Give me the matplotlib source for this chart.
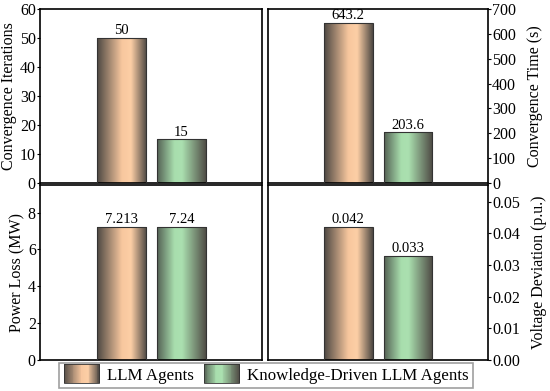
import numpy as np
import matplotlib
matplotlib.use('Agg')
import matplotlib.pyplot as plt
from matplotlib.colors import LinearSegmentedColormap
from matplotlib.patches import Rectangle, Patch
from matplotlib.legend_handler import HandlerBase

plt.rcParams['font.family'] = ['Liberation Serif', 'DejaVu Serif']

# dane
methods = ['LLM Agents', 'Knowledge-Driven LLM Agents']
iterations = [50, 15]
conv_time = [643.2, 203.6]
power_loss = [7.213, 7.24]
voltage_dev = [0.042, 0.033]
labels_iter = ['50', '15']
labels_time = ['643.2', '203.6']
labels_loss = ['7.213', '7.24']
labels_volt = ['0.042', '0.033']

dark = (0.30, 0.28, 0.26)
cm_orange = LinearSegmentedColormap.from_list(
    'or', [(0, dark), (0.5, (0.97, 0.78, 0.62)), (0.68, (0.99, 0.81, 0.65)), (1, dark)])
cm_green = LinearSegmentedColormap.from_list(
    'gr', [(0, (0.33, 0.38, 0.33)), (0.35, (0.66, 0.87, 0.68)), (0.5, (0.67, 0.88, 0.69)), (1, dark)])
cmaps = [cm_orange, cm_green]


def grad_bars(ax, vals, texts, ylim, yticks, ylabel, right=False, fmt=None):
    x = np.arange(len(vals))
    bars = ax.bar(x, vals, width=0.81, color='none', edgecolor='#333333', linewidth=0.8, zorder=3)
    grad = np.linspace(0, 1, 256).reshape(1, -1)
    for b, cm in zip(bars, cmaps):
        im = ax.imshow(grad, extent=[b.get_x(), b.get_x() + b.get_width(), 0, b.get_height()],
                       aspect='auto', cmap=cm, zorder=2, interpolation='bicubic')
        im.set_clip_path(b)
    for b, t in zip(bars, texts):
        ax.text(b.get_x() + b.get_width() / 2, b.get_height() + ylim * 0.004, t,
                ha='center', va='bottom', fontsize=10.5)
    ax.set_xlim(-1.34, 2.33)
    ax.set_ylim(0, ylim)
    ax.set_yticks(yticks)
    if fmt:
        ax.set_yticklabels([fmt % v for v in yticks])
    ax.set_xticks([])
    ax.set_ylabel(ylabel, fontsize=11.5, labelpad=2)
    ax.tick_params(axis='y', direction='out', length=2, pad=1, labelsize=11.5)
    if right:
        ax.yaxis.tick_right()
        ax.yaxis.set_label_position('right')
        ax.set_ylabel(ylabel, fontsize=11.5, labelpad=8)
    for s in ax.spines.values():
        s.set_linewidth(1.2)


class GradHandler(HandlerBase):
    def __init__(self, cm):
        super().__init__()
        self.cm = cm

    def create_artists(self, legend, orig_handle, xdescent, ydescent, width, height, fontsize, trans):
        n = 40
        arts = []
        for i in range(n):
            r = Rectangle((-xdescent + width * i / n, -ydescent - 2), width / n + 0.3, height + 4,
                          facecolor=self.cm((i + 0.5) / n), edgecolor='none', transform=trans)
            arts.append(r)
        arts.append(Rectangle((-xdescent, -ydescent - 2), width, height + 4, facecolor='none',
                              edgecolor='#333333', linewidth=0.6, transform=trans))
        return arts


fig = plt.figure(figsize=(5.5, 3.91), dpi=100)
ax1 = fig.add_axes([0.0727, 0.532, 0.4037, 0.445])
ax2 = fig.add_axes([0.4873, 0.532, 0.3997, 0.445])
ax3 = fig.add_axes([0.0727, 0.079, 0.4037, 0.448])
ax4 = fig.add_axes([0.4873, 0.079, 0.3997, 0.448])

grad_bars(ax1, iterations, labels_iter, 60, np.arange(0, 61, 10), 'Convergence Iterations')
grad_bars(ax2, conv_time, labels_time, 700, np.arange(0, 701, 100), 'Convergence Time (s)', right=True)
grad_bars(ax3, power_loss, labels_loss, 9.5, np.arange(0, 9, 2), 'Power Loss (MW)')
grad_bars(ax4, voltage_dev, labels_volt, 0.0553, np.arange(0, 0.051, 0.01), 'Voltage Deviation (p.u.)',
          right=True, fmt='%.2f')

h = [Patch(), Patch()]
leg = fig.legend(h, methods, loc='center', bbox_to_anchor=(0.484, 0.04), ncol=2, fontsize=12.2,
                 handler_map={h[0]: GradHandler(cm_orange), h[1]: GradHandler(cm_green)},
                 fancybox=False, edgecolor='#888888', handlelength=2.1, handleheight=0.8,
                 columnspacing=0.6, handletextpad=0.45, borderpad=0.25, borderaxespad=0)
leg.get_frame().set_linewidth(1.2)

plt.savefig('out.png', dpi=100)
